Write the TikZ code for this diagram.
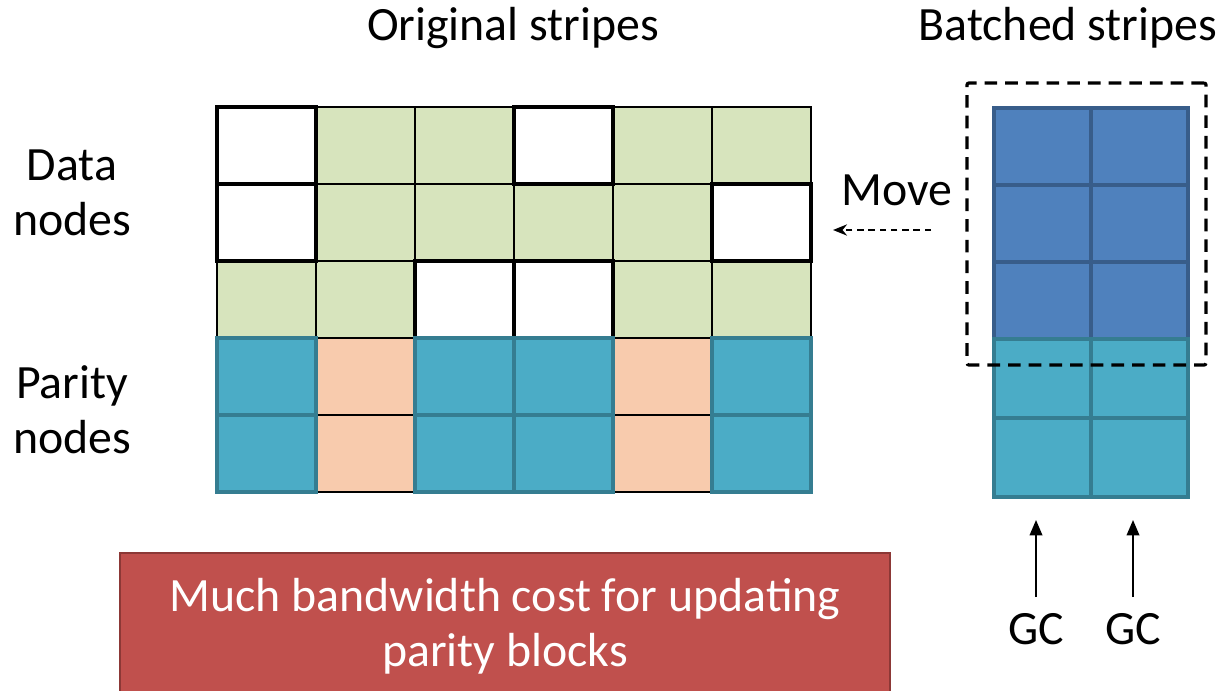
\documentclass[tikz,border=0pt]{standalone}
\usepackage{fontspec}
\setmainfont{Carlito}
\usetikzlibrary{arrows.meta}
\definecolor{datagreen}{HTML}{D7E4BD}
\definecolor{parpeach}{HTML}{F8CBAD}
\definecolor{parteal}{HTML}{4BACC6}
\definecolor{tealedge}{HTML}{357D91}
\definecolor{batchblue}{HTML}{4F81BD}
\definecolor{blueedge}{HTML}{385D8A}
\definecolor{warnred}{HTML}{C0504D}
\definecolor{warnedge}{HTML}{8C3836}

\begin{document}
\begin{tikzpicture}[x=0.025cm,y=-0.025cm,
  cell/.style={rectangle, minimum width=2.475cm, minimum height=1.925cm, inner sep=0pt, outer sep=0pt},
  greencell/.style={cell, fill=datagreen, draw=black, line width=1pt},
  whitecell/.style={cell, fill=white, draw=black, line width=3.3pt},
  peachcell/.style={cell, fill=parpeach, draw=black, line width=1pt},
  tealcell/.style={cell, fill=parteal, draw=tealedge, line width=2.8pt},
  bcell/.style={rectangle, minimum width=2.425cm, inner sep=0pt, outer sep=0pt, line width=2.2pt},
  bluecell/.style={bcell, minimum height=1.925cm, fill=batchblue, draw=blueedge},
  bteal/.style={bcell, minimum height=1.975cm, fill=parteal, draw=tealedge},
  label/.style={font=\fontsize{34}{39}\selectfont, align=center, inner sep=0pt},
  warnbox/.style={rectangle, fill=warnred, draw=warnedge, line width=1.6pt,
    minimum width=19.25cm, minimum height=3.65cm, inner sep=0pt, text=white,
    align=center, font=\fontsize{34}{39}\selectfont},
  gcarrow/.style={line width=1.4pt, -{Triangle[length=11pt,width=9pt]}}]

\useasboundingbox (0,0) rectangle (1220,690);

% ---- original stripes: data rows ----
\foreach \c/\r in {1/0,2/0,4/0,5/0, 1/1,2/1,3/1,4/1, 0/2,1/2,4/2,5/2}
  \node[greencell] (d-\c-\r) at ({266.5+99*\c},{145.5+77*\r}) {};
\foreach \c/\r in {0/0,3/0, 0/1,5/1, 2/2,3/2}
  \node[whitecell] (d-\c-\r) at ({266.5+99*\c},{145.5+77*\r}) {};

% ---- original stripes: parity rows ----
\foreach \c in {1,4}
  \foreach \r in {0,1}
    \node[peachcell] (p-\c-\r) at ({266.5+99*\c},{376.5+77*\r}) {};
\foreach \c in {0,2,3,5}
  \foreach \r in {0,1}
    \node[tealcell] (p-\c-\r) at ({266.5+99*\c},{376.5+77*\r}) {};

% ---- batched stripes ----
\foreach \c in {0,1}
  \foreach \r in {0,1,2}
    \node[bluecell] (b-\c-\r) at ({1042.5+97*\c},{146.5+77*\r}) {};
\foreach \c in {0,1}
  \foreach \r in {0,1}
    \node[bteal] (t-\c-\r) at ({1042.5+97*\c},{378.5+79*\r}) {};

% dashed frame around the batched data blocks
\node[draw=black, line width=2.3pt, dash pattern=on 9pt off 5.7pt,
  rounded corners=1.5pt, minimum width=5.975cm, minimum height=7.05cm,
  inner sep=0pt] (frame) at (1086.5,224) {};

% ---- labels ----
\node[label] (torig) at (513,28) {Original stripes};
\node[label] (tbatch) at (1068,28) {Batched stripes};
\node[label] (ldata) at (72,193) {Data\\nodes};
\node[label] (lpar) at (72,410) {Parity\\nodes};
\node[label] (lmove) at (897,190) {Move};

% move arrow
\coordinate (mvfrom) at (931,230);
\coordinate (mvto) at (833,230);
\draw[line width=1.4pt, dash pattern=on 4.5pt off 3.5pt, -{Stealth[length=10pt,width=8pt]}]
  (mvfrom) -- (mvto);

% GC labels and their arrows
\node[label] (gc1) at (1036,629) {GC};
\node[label] (gc2) at (1133,629) {GC};
\coordinate (g1s) at (1036,597);
\coordinate (g1e) at (1036,520);
\coordinate (g2s) at (1133,597);
\coordinate (g2e) at (1133,520);
\draw[gcarrow] (g1s) -- (g1e);
\draw[gcarrow] (g2s) -- (g2e);

% ---- note box ----
\node[warnbox] (note) at (505,626) {Much bandwidth cost for updating\\parity blocks};

\end{tikzpicture}
\end{document}
